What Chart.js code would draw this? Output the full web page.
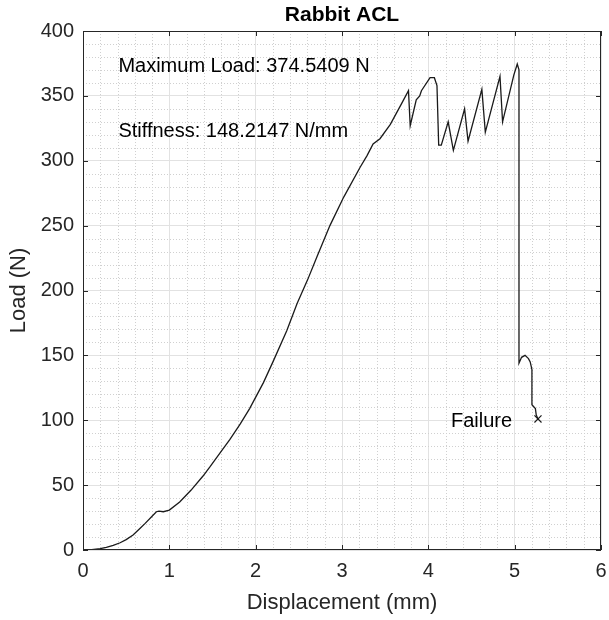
<!DOCTYPE html>
<html>
<head>
<meta charset="utf-8">
<script src="https://cdn.jsdelivr.net/npm/chart.js@4.4.1/dist/chart.umd.min.js"></script>
<style>
  html, body { margin: 0; padding: 0; background: #ffffff; }
  #wrap { width: 609px; height: 620px; position: relative; }
</style>
</head>
<body>
<div id="wrap"><canvas id="c" width="609" height="620"></canvas></div>
<script>
// ---- data ----
const displacement = [0, 0.1, 0.2, 0.27, 0.35, 0.43, 0.5, 0.58, 0.65, 0.72, 0.8, 0.85, 0.88, 0.93, 1.0, 1.12, 1.25, 1.39, 1.47, 1.59, 1.7, 1.82, 1.93, 2.09, 2.2, 2.36, 2.48, 2.6, 2.71, 2.86, 3.02, 3.21, 3.29, 3.36, 3.44, 3.56, 3.69, 3.77, 3.79, 3.86, 3.9, 3.92, 4.02, 4.07, 4.1, 4.12, 4.15, 4.23, 4.29, 4.42, 4.46, 4.62, 4.66, 4.83, 4.86, 4.99, 5.03, 5.05, 5.05, 5.08, 5.12, 5.16, 5.18, 5.2, 5.2, 5.24, 5.25, 5.27];
const load = [0, 0.3, 1, 2, 3.5, 5.6, 8, 11.6, 16, 20.5, 26, 29.5, 30, 29.5, 30.8, 37, 46, 57, 64, 75, 85, 97, 109, 129, 145, 169, 190, 208, 226, 250, 272, 295, 304, 313, 317, 328, 344, 354, 327, 347, 350, 354, 364, 364, 358, 312, 312, 330, 308, 340, 315, 355, 322, 365, 330, 366, 374.5, 370, 144, 148.5, 150, 147.5, 145, 139, 112, 109, 104, 101];
const failurePoint = [5.27, 101];
const xTicks = [0, 1, 2, 3, 4, 5, 6];
const yTicks = [0, 50, 100, 150, 200, 250, 300, 350, 400];
const titleText = "Rabbit ACL";
const xLabel = "Displacement (mm)";
const yLabel = "Load (N)";
const notes = [
  { text: "Maximum Load: 374.5409 N", x: 0.41, y: 368.6, align: "left" },
  { text: "Stiffness: 148.2147 N/mm", x: 0.41, y: 318.5, align: "left" },
  { text: "Failure", x: 4.97, y: 94.5, align: "right" }
];

const FONT = "'Liberation Sans', Arial, Helvetica, sans-serif";
const TXT = "#262626";

const points = displacement.map((d, i) => ({ x: d, y: load[i] }));

const decorPlugin = {
  id: 'decor',
  beforeDatasetsDraw(chart) {
    const { ctx, chartArea: a, scales: { x, y } } = chart;
    ctx.save();
    ctx.strokeStyle = '#d0d0d0';
    ctx.lineWidth = 1;
    ctx.setLineDash([1, 2]);
    for (let i = 1; i < 30; i++) {
      if (i % 5 === 0) continue;
      const px = Math.round(x.getPixelForValue(i * 0.2)) + 0.5;
      ctx.beginPath(); ctx.moveTo(px, a.top); ctx.lineTo(px, a.bottom); ctx.stroke();
    }
    for (let i = 1; i < 40; i++) {
      if (i % 5 === 0) continue;
      const py = Math.round(y.getPixelForValue(i * 10)) + 0.5;
      ctx.beginPath(); ctx.moveTo(a.left, py); ctx.lineTo(a.right, py); ctx.stroke();
    }
    ctx.restore();
  },
  afterDraw(chart) {
    const { ctx, chartArea: a, scales: { x, y } } = chart;
    ctx.save();
    ctx.strokeStyle = TXT;
    ctx.lineWidth = 1;
    ctx.strokeRect(Math.round(a.left) + 0.5, Math.round(a.top) + 0.5, Math.round(a.right - a.left) - 1, Math.round(a.bottom - a.top) - 1);
    const tl = 5;
    xTicks.forEach(v => {
      const px = Math.round(x.getPixelForValue(v)) + 0.5;
      ctx.beginPath();
      ctx.moveTo(px, a.bottom); ctx.lineTo(px, a.bottom - tl);
      ctx.moveTo(px, a.top); ctx.lineTo(px, a.top + tl);
      ctx.stroke();
    });
    yTicks.forEach(v => {
      const py = Math.round(y.getPixelForValue(v)) + 0.5;
      ctx.beginPath();
      ctx.moveTo(a.left, py); ctx.lineTo(a.left + tl, py);
      ctx.moveTo(a.right, py); ctx.lineTo(a.right - tl, py);
      ctx.stroke();
    });
    ctx.fillStyle = '#000';
    ctx.font = "bold 21px " + FONT;
    ctx.textAlign = 'center';
    ctx.textBaseline = 'middle';
    ctx.fillText(titleText, (a.left + a.right) / 2, 15);
    ctx.font = "20px " + FONT;
    ctx.fillStyle = '#000';
    ctx.textBaseline = 'alphabetic';
    notes.forEach(n => {
      ctx.textAlign = n.align;
      ctx.fillText(n.text, x.getPixelForValue(n.x), y.getPixelForValue(n.y));
    });
    ctx.restore();
  }
};

new Chart(document.getElementById('c'), {
  type: 'scatter',
  data: {
    datasets: [
      {
        data: points,
        showLine: true,
        borderColor: '#1a1a1a',
        borderWidth: 1.3,
        pointRadius: 0,
        tension: 0,
        fill: false
      },
      {
        data: [{ x: failurePoint[0], y: failurePoint[1] }],
        showLine: false,
        pointStyle: 'crossRot',
        pointRadius: 5,
        borderColor: '#1a1a1a',
        borderWidth: 1.2
      }
    ]
  },
  plugins: [decorPlugin],
  options: {
    responsive: false,
    animation: false,
    events: [],
    layout: { padding: { top: 31, right: 8, left: 0, bottom: 0 } },
    plugins: { legend: { display: false }, tooltip: { enabled: false }, title: { display: false } },
    scales: {
      x: {
        type: 'linear', min: 0, max: 6,
        afterBuildTicks: s => { s.ticks = xTicks.map(v => ({ value: v })); },
        afterFit: s => { s.height = 70; s.paddingLeft = 0; s.paddingRight = 0; },
        ticks: { color: TXT, font: { family: FONT, size: 20 }, padding: 9 },
        grid: { color: '#e2e2e2', drawTicks: false },
        border: { display: false },
        title: { display: true, text: xLabel, color: TXT, font: { family: FONT, size: 22 }, padding: { top: 0, bottom: 4 } }
      },
      y: {
        type: 'linear', min: 0, max: 400,
        afterBuildTicks: s => { s.ticks = yTicks.map(v => ({ value: v })); },
        afterFit: s => { s.width = 83; s.paddingTop = 0; s.paddingBottom = 0; },
        ticks: { color: TXT, font: { family: FONT, size: 20 }, padding: 9 },
        grid: { color: '#e2e2e2', drawTicks: false },
        border: { display: false },
        title: { display: true, text: yLabel, color: TXT, font: { family: FONT, size: 22 }, padding: { top: 6, bottom: 0 } }
      }
    }
  }
});
</script>
</body>
</html>
